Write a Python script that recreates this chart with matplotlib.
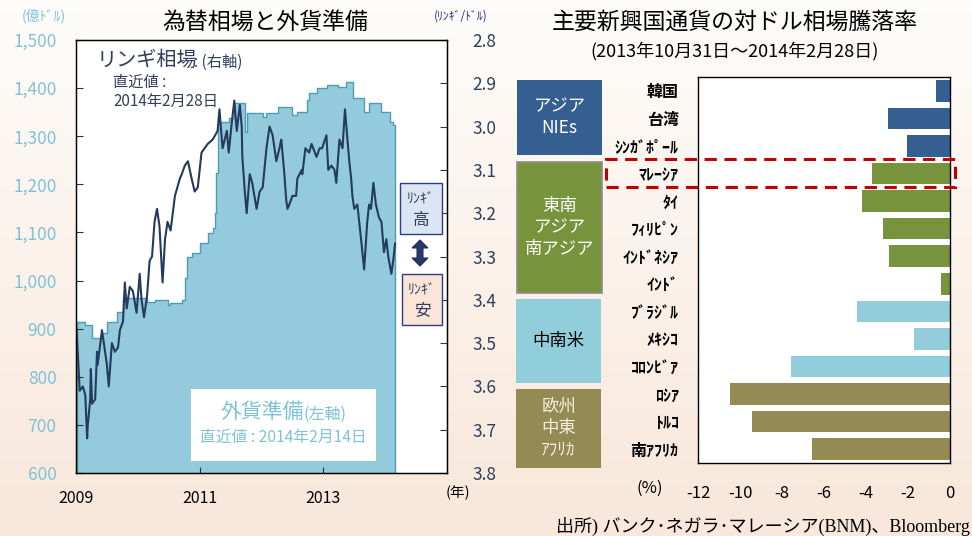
import numpy as np
import matplotlib
matplotlib.use("Agg")
import matplotlib.pyplot as plt
from matplotlib.patches import Rectangle, Polygon

plt.rcParams['font.family'] = ['Noto Sans CJK JP', 'DejaVu Sans']

# ---- left chart data ----
# foreign reserves (100 mil USD), step series
res_year = [2009.02, 2009.15, 2009.26, 2009.42, 2009.50, 2009.66, 2009.76,
            2010.15, 2010.27, 2010.48, 2010.52, 2010.71, 2010.76, 2010.79, 2010.87,
            2011.00, 2011.13, 2011.21, 2011.24, 2011.27, 2011.29, 2011.35, 2011.48,
            2011.56, 2011.74, 2011.77,
            2012.02, 2012.08, 2012.26, 2012.50, 2012.58, 2012.73, 2012.77, 2012.90,
            2013.06, 2013.23, 2013.37, 2013.48, 2013.66, 2013.74, 2013.94,
            2014.08, 2014.12, 2014.16]
res_value = [914, 908, 880, 891, 914, 935, 964,
             956, 960, 950, 953, 960, 1005, 1049, 1057,
             1078, 1099, 1109, 1140, 1224, 1328, 1330, 1338,
             1370, 1309, 1348,
             1340, 1348, 1360, 1345, 1350, 1375, 1390, 1400,
             1406, 1403, 1413, 1380, 1350, 1369, 1350,
             1330, 1323, 1323]

# ringgit per USD
rgt_year = [2009.01, 2009.06, 2009.11, 2009.15, 2009.18, 2009.19, 2009.23, 2009.24, 2009.26,
            2009.31, 2009.34, 2009.35, 2009.42, 2009.47, 2009.50, 2009.53, 2009.58, 2009.63,
            2009.68, 2009.71, 2009.76, 2009.79, 2009.82, 2009.87, 2009.92, 2009.98,
            2010.03, 2010.06, 2010.10, 2010.15, 2010.19, 2010.23, 2010.27, 2010.31, 2010.35,
            2010.40, 2010.44, 2010.48, 2010.53, 2010.60, 2010.68, 2010.71, 2010.76, 2010.81,
            2010.87, 2010.92, 2010.97,
            2011.03, 2011.08, 2011.13, 2011.21, 2011.29, 2011.32, 2011.37, 2011.44, 2011.47,
            2011.52, 2011.56, 2011.60, 2011.65, 2011.68, 2011.69, 2011.73, 2011.76, 2011.81,
            2011.85, 2011.92, 2011.97,
            2012.02, 2012.08, 2012.13, 2012.18, 2012.24, 2012.29, 2012.32, 2012.37, 2012.40,
            2012.42, 2012.45, 2012.50, 2012.56, 2012.58, 2012.65, 2012.66, 2012.71, 2012.77,
            2012.81, 2012.89, 2012.94, 2012.98,
            2013.05, 2013.08, 2013.13, 2013.18, 2013.21, 2013.26, 2013.31, 2013.35, 2013.39,
            2013.42, 2013.45, 2013.47, 2013.50, 2013.55, 2013.58, 2013.61, 2013.66, 2013.71,
            2013.74, 2013.77, 2013.81, 2013.85, 2013.90, 2013.94, 2013.98,
            2014.02, 2014.05, 2014.10, 2014.13, 2014.16]
rgt_rate = [3.47, 3.61, 3.60, 3.62, 3.72, 3.69, 3.63, 3.56, 3.64,
            3.63, 3.52, 3.55, 3.47, 3.52, 3.55, 3.60, 3.50, 3.52,
            3.51, 3.47, 3.45, 3.36, 3.42, 3.37, 3.38, 3.43,
            3.34, 3.40, 3.44, 3.39, 3.31, 3.30, 3.22, 3.19, 3.23,
            3.36, 3.26, 3.22, 3.24, 3.16, 3.12, 3.11, 3.09, 3.08,
            3.12, 3.15, 3.14,
            3.06, 3.05, 3.04, 3.03, 3.01, 2.96, 3.05, 3.01, 3.06,
            2.99, 2.94, 3.01, 2.95, 3.00, 3.07, 3.15, 3.20, 3.11,
            3.13, 3.19, 3.15,
            3.14, 3.05, 3.00, 3.02, 3.08, 3.05, 3.03, 3.11, 3.17,
            3.19, 3.18, 3.16, 3.16, 3.12, 3.10, 3.11, 3.05, 3.06,
            3.04, 3.07, 3.05, 3.05,
            3.02, 3.10, 3.09, 3.10, 3.13, 3.03, 3.05, 2.96, 3.03,
            3.08, 3.12, 3.16, 3.19, 3.18, 3.22, 3.26, 3.33, 3.22,
            3.18, 3.19, 3.13, 3.18, 3.21, 3.22, 3.29,
            3.26, 3.30, 3.34, 3.31, 3.27]

year_ticks = [2009, 2011, 2013]
res_ticks = [600, 700, 800, 900, 1000, 1100, 1200, 1300, 1400, 1500]
rgt_ticks = [2.8, 2.9, 3.0, 3.1, 3.2, 3.3, 3.4, 3.5, 3.6, 3.7, 3.8]

# ---- right chart data ----
countries = ['韓国', '台湾', 'ｼﾝｶﾞﾎﾟｰﾙ', 'ﾏﾚｰｼｱ', 'ﾀｲ', 'ﾌｨﾘﾋﾟﾝ', 'ｲﾝﾄﾞﾈｼｱ', 'ｲﾝﾄﾞ',
             'ﾌﾞﾗｼﾞﾙ', 'ﾒｷｼｺ', 'ｺﾛﾝﾋﾞｱ', 'ﾛｼｱ', 'ﾄﾙｺ', '南ｱﾌﾘｶ']
change = [-0.65, -2.95, -2.05, -3.7, -4.2, -3.2, -2.9, -0.45,
          -4.45, -1.7, -7.55, -10.5, -9.45, -6.55]
region = [0, 0, 0, 1, 1, 1, 1, 1, 2, 2, 2, 3, 3, 3]
region_names = ['アジア\nNIEs', '東南\nアジア\n南アジア', '中南米', '欧州\n中東\nｱﾌﾘｶ']
region_colors = ['#365F91', '#77933C', '#92CDDC', '#948A54']
pct_ticks = [-12, -10, -8, -6, -4, -2, 0]

W, H = 972, 536
fig = plt.figure(figsize=(W / 100, H / 100), dpi=100)


def fx(x):
    return x / W


def fy(y):
    return 1 - y / H


# background gradient
bg = fig.add_axes([0, 0, 1, 1], zorder=-10)
top = np.array([0.996, 0.990, 0.982])
bot = np.array([0.973, 0.906, 0.855])
t = np.linspace(0, 1, 256)[:, None]
grad = (top[None, :] * (1 - t) + bot[None, :] * t)[:, None, :]
bg.imshow(grad, aspect='auto', extent=[0, 1, 0, 1])
bg.axis('off')

navy = '#243A5E'
txt_navy = '#2F3F5F'
lblue = '#7DC2D6'
fill_c = '#93CBDC'
edge_c = '#4F9DB4'

# ---------------- left chart ----------------
ax = fig.add_axes([fx(76), fy(473), fx(447 - 76), (473 - 40) / H])
ax.set_facecolor('white')
ax.fill_between(res_year, 0, res_value, step='post', facecolor=fill_c,
                edgecolor=edge_c, linewidth=1.0)
ax.set_xlim(2009, 2015)
ax.set_ylim(600, 1500)
ax.set_yticks(res_ticks)
ax.set_yticklabels([f'{v:,}' for v in res_ticks], color=lblue, fontsize=12.5)
ax.set_xticks(year_ticks)
ax.set_xticklabels([str(y) for y in year_ticks], fontsize=11.5)
ax.tick_params(axis='y', direction='in', length=5, pad=14, color='#333333')
ax.tick_params(axis='x', direction='in', length=4, pad=12, color='#333333')
for s in ax.spines.values():
    s.set_color('black')
    s.set_linewidth(1.0)

axr = ax.twinx()
axr.plot(rgt_year, rgt_rate, color=navy, linewidth=1.5)
axr.set_ylim(3.8, 2.8)
axr.set_yticks(rgt_ticks)
axr.set_yticklabels([f'{v:.1f}' for v in rgt_ticks], color=txt_navy, fontsize=12.5)
axr.tick_params(axis='y', direction='in', length=5, pad=18, color='#333333')
axr.set_xlim(2009, 2015)

fig.text(fx(265), fy(22), '為替相場と外貨準備', ha='center', va='center', fontsize=16.5)
fig.text(fx(44), fy(16), '(億ﾄﾞﾙ)', ha='center', va='center', fontsize=10, color=lblue)
fig.text(fx(461), fy(16), '(ﾘﾝｷﾞ/ﾄﾞﾙ)', ha='center', va='center', fontsize=8.5, color='#2B2B8C')
fig.text(fx(458), fy(493), '(年)', ha='center', va='center', fontsize=10.5)

fig.text(fx(97), fy(60), 'リンギ相場', ha='left', va='center', fontsize=14.5, color=txt_navy)
fig.text(fx(194), fy(62), ': (右軸)', ha='left', va='center', fontsize=11, color=txt_navy)
fig.text(fx(113), fy(82), '直近値 :', ha='left', va='center', fontsize=11, color=txt_navy)
fig.text(fx(113), fy(101), '2014年2月28日', ha='left', va='center', fontsize=11, color=txt_navy)

fig.add_artist(Rectangle((fx(191), fy(461)), fx(376 - 191), (461 - 389) / H,
                         transform=fig.transFigure, facecolor='white', edgecolor='none', zorder=5))
fig.text(fx(220), fy(412), '外貨準備', ha='left', va='center', fontsize=15, color=lblue, zorder=6)
fig.text(fx(303), fy(414), '(左軸)', ha='left', va='center', fontsize=11.5, color=lblue, zorder=6)
fig.text(fx(283), fy(437), '直近値 : 2014年2月14日', ha='center', va='center', fontsize=11.3,
         color=lblue, zorder=6)

fig.add_artist(Rectangle((fx(400), fy(234)), fx(42), 51 / H, transform=fig.transFigure,
                         facecolor='#DCE6F2', edgecolor='#2E3A8C', linewidth=1.0, zorder=5))
fig.text(fx(421), fy(199), 'ﾘﾝｷﾞ', ha='center', va='center', fontsize=10, color=txt_navy, zorder=6)
fig.text(fx(421), fy(220), '高', ha='center', va='center', fontsize=12, color=txt_navy, zorder=6)
fig.add_artist(Rectangle((fx(402), fy(325)), fx(40), 51 / H, transform=fig.transFigure,
                         facecolor='#FBE5D6', edgecolor='#2E3A8C', linewidth=1.0, zorder=5))
fig.text(fx(422), fy(290), 'ﾘﾝｷﾞ', ha='center', va='center', fontsize=10, color=txt_navy, zorder=6)
fig.text(fx(422), fy(311), '安', ha='center', va='center', fontsize=12, color=txt_navy, zorder=6)

# double arrow between the two boxes
ac, at, ab, hw, hl, sw = 420, 240, 266, 8, 8, 3
arrow_pts = [(ac, at), (ac + hw, at + hl), (ac + sw, at + hl), (ac + sw, ab - hl),
             (ac + hw, ab - hl), (ac, ab), (ac - hw, ab - hl), (ac - sw, ab - hl),
             (ac - sw, at + hl), (ac - hw, at + hl)]
fig.add_artist(Polygon([(fx(a), fy(b)) for a, b in arrow_pts], closed=True,
                       transform=fig.transFigure, facecolor=navy, edgecolor='#1F2F6F',
                       linewidth=0.8, zorder=6))

# ---------------- right chart ----------------
ax2 = fig.add_axes([fx(698), fy(463), fx(950 - 698), (463 - 77) / H])
ax2.set_facecolor('white')
ypos = np.arange(len(countries))
ax2.barh(ypos, change, height=0.78, color=[region_colors[r] for r in region])
ax2.set_ylim(len(countries) - 0.5, -0.5)
ax2.set_xlim(-12, 0)
ax2.set_xticks(pct_ticks)
ax2.set_xticklabels([str(v) for v in pct_ticks], fontsize=12)
ax2.set_yticks(ypos)
ax2.set_yticklabels(countries, fontsize=11.5, fontweight='bold')
ax2.tick_params(axis='y', length=0, pad=14)
ax2.tick_params(axis='x', length=0, pad=16)
for s in ax2.spines.values():
    s.set_color('black')
    s.set_linewidth(1.0)

fig.text(fx(735), fy(22), '主要新興国通貨の対ドル相場騰落率', ha='center', va='center', fontsize=16.5)
fig.text(fx(735), fy(51), '(2013年10月31日～2014年2月28日)', ha='center', va='center', fontsize=13)
fig.text(fx(650), fy(488), '(%)', ha='center', va='center', fontsize=12)

boxes = [(517, 80, 602, 155), (517, 162, 602, 293), (516, 299, 601, 383), (516, 389, 601, 468)]
text_cols = ['white', 'white', 'black', '#F5F0E0']
for i, (x0, y0, x1, y1) in enumerate(boxes):
    fig.add_artist(Rectangle((fx(x0), fy(y1)), fx(x1 - x0), (y1 - y0) / H,
                             transform=fig.transFigure, facecolor=region_colors[i],
                             edgecolor='#8C8C8C' if i == 1 else 'none', linewidth=1.2))
    fig.text(fx((x0 + x1) / 2), fy((y0 + y1) / 2), region_names[i], ha='center', va='center',
             fontsize=12.5, color=text_cols[i], linespacing=1.25)

fig.add_artist(Rectangle((fx(606), fy(187)), fx(955 - 606), 28 / H, transform=fig.transFigure,
                         facecolor='none', edgecolor='#C00000', linewidth=2.2,
                         linestyle=(0, (4, 2.5)), zorder=10))

fig.text(fx(970), fy(526), '出所) バンク･ネガラ･マレーシア(BNM)、Bloomberg', ha='right', va='center',
         fontsize=13, family=['Liberation Serif', 'Noto Sans CJK JP'])

fig.savefig('out.png', dpi=100)
